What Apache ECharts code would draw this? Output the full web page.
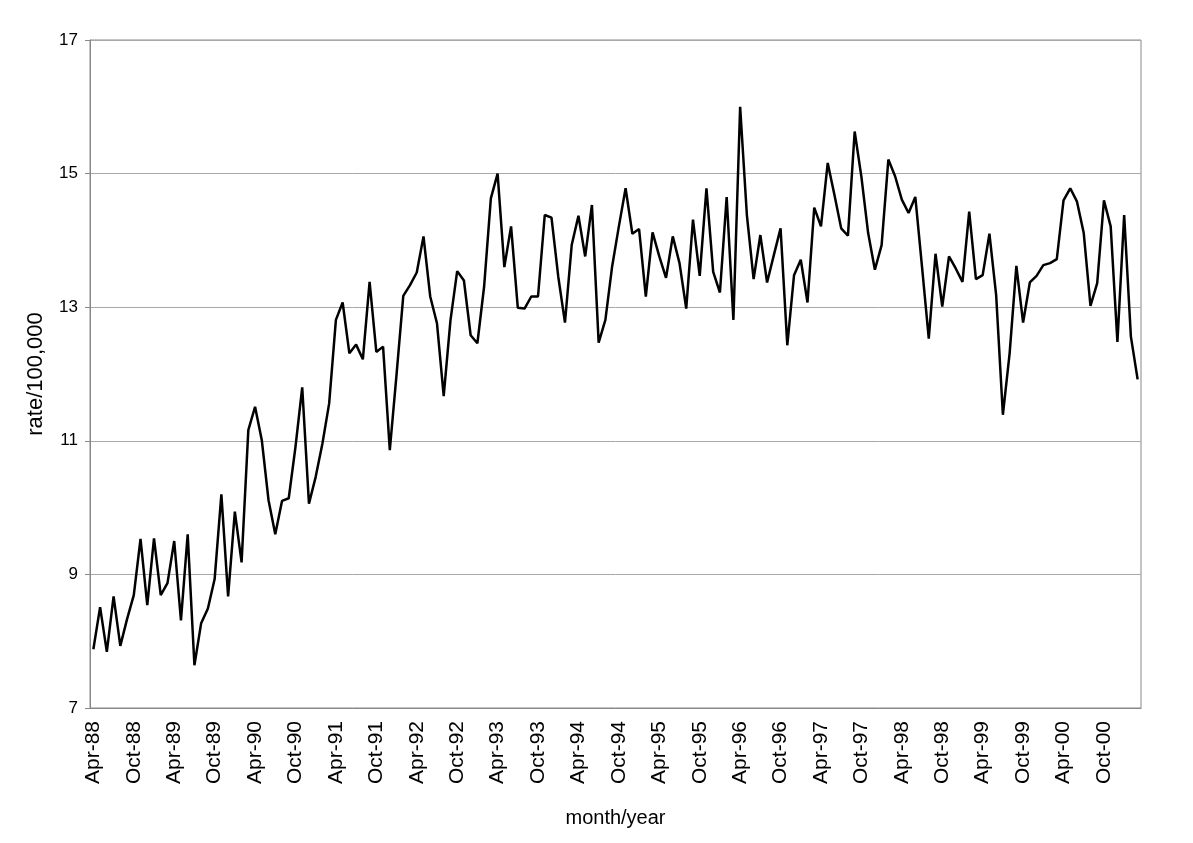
<!DOCTYPE html>
<html>
<head>
<meta charset="utf-8">
<script src="https://cdn.jsdelivr.net/npm/echarts@6/dist/echarts.min.js"></script>
<style>
  html, body { margin: 0; padding: 0; background: #fff; }
  #chart { width: 1193px; height: 843px; }
</style>
</head>
<body>
<div id="chart"></div>
<script>
  // monthly series, Apr-88 .. Mar-01
  const monthNames = ['Jan', 'Feb', 'Mar', 'Apr', 'May', 'Jun', 'Jul', 'Aug', 'Sep', 'Oct', 'Nov', 'Dec'];
  const startYear = 1988;
  const startMonth = 3; // Apr
  const rates = [
    7.88, 8.51, 7.84, 8.67, 7.93, 8.33, 8.69, 9.53, 8.54, 9.54,
    8.69, 8.87, 9.50, 8.31, 9.60, 7.64, 8.27, 8.49, 8.93, 10.20,
    8.67, 9.94, 9.18, 11.16, 11.51, 11.01, 10.11, 9.60, 10.10, 10.14,
    10.91, 11.80, 10.06, 10.46, 10.96, 11.56, 12.81, 13.07, 12.31, 12.44,
    12.22, 13.38, 12.33, 12.41, 10.86, 11.99, 13.17, 13.33, 13.52, 14.06,
    13.16, 12.76, 11.67, 12.80, 13.54, 13.40, 12.58, 12.46, 13.31, 14.63,
    15.00, 13.60, 14.21, 12.99, 12.98, 13.16, 13.16, 14.38, 14.34, 13.46,
    12.77, 13.93, 14.37, 13.76, 14.53, 12.47, 12.81, 13.61, 14.21, 14.78,
    14.10, 14.17, 13.16, 14.12, 13.76, 13.44, 14.06, 13.66, 12.98, 14.31,
    13.47, 14.78, 13.53, 13.22, 14.65, 12.81, 16.00, 14.38, 13.42, 14.08,
    13.37, 13.78, 14.18, 12.43, 13.48, 13.71, 13.07, 14.49, 14.21, 15.16,
    14.68, 14.18, 14.07, 15.63, 14.95, 14.11, 13.56, 13.93, 15.21, 14.96,
    14.61, 14.41, 14.65, 13.60, 12.53, 13.80, 13.01, 13.76, 13.58, 13.38,
    14.43, 13.42, 13.48, 14.10, 13.18, 11.39, 12.31, 13.62, 12.77, 13.37,
    13.47, 13.63, 13.66, 13.72, 14.60, 14.78, 14.58, 14.11, 13.02, 13.36,
    14.60, 14.21, 12.48, 14.38, 12.56, 11.92
  ];
  const yTicks = [7, 9, 11, 13, 15, 17];

  // category labels like "Apr-88"
  const months = [];
  for (let i = 0; i < rates.length; i++) {
    const m = (startMonth + i) % 12;
    const y = startYear + Math.floor((startMonth + i) / 12);
    months.push(monthNames[m] + '-' + String(y % 100).padStart(2, '0'));
  }

  const font = 'Liberation Sans, Arial, sans-serif';
  const chart = echarts.init(document.getElementById('chart'));
  const option = {
    backgroundColor: '#fff',
    animation: false,
    grid: {
      left: 90,
      right: 52,
      top: 40,
      bottom: 135,
      show: true,
      borderColor: '#888',
      borderWidth: 1
    },
    xAxis: {
      type: 'category',
      data: months,
      boundaryGap: true,
      name: 'month/year',
      nameLocation: 'middle',
      nameGap: 100,
      nameTextStyle: { fontFamily: font, fontSize: 20, color: '#000' },
      axisLine: { lineStyle: { color: '#888', width: 1 } },
      axisTick: { interval: 5, length: 5, lineStyle: { color: '#888' } },
      axisLabel: {
        interval: 5,
        rotate: 90,
        margin: 13,
        fontFamily: font,
        fontSize: 21,
        color: '#000'
      },
      splitLine: { show: false }
    },
    yAxis: {
      type: 'value',
      min: yTicks[0],
      max: yTicks[yTicks.length - 1],
      interval: 2,
      name: 'rate/100,000',
      nameLocation: 'middle',
      nameGap: 43,
      nameTextStyle: { fontFamily: font, fontSize: 22, color: '#000' },
      axisLine: { show: true, lineStyle: { color: '#888', width: 1 } },
      axisTick: { show: true, length: 5, lineStyle: { color: '#888' } },
      axisLabel: { fontFamily: font, fontSize: 17, color: '#000', margin: 12 },
      splitLine: { lineStyle: { color: '#a8a8a8', width: 1 } }
    },
    series: [{
      type: 'line',
      data: rates,
      symbol: 'none',
      lineStyle: { color: '#000', width: 2.5 },
      itemStyle: { color: '#000' }
    }]
  };
  chart.setOption(option);
</script>
</body>
</html>
